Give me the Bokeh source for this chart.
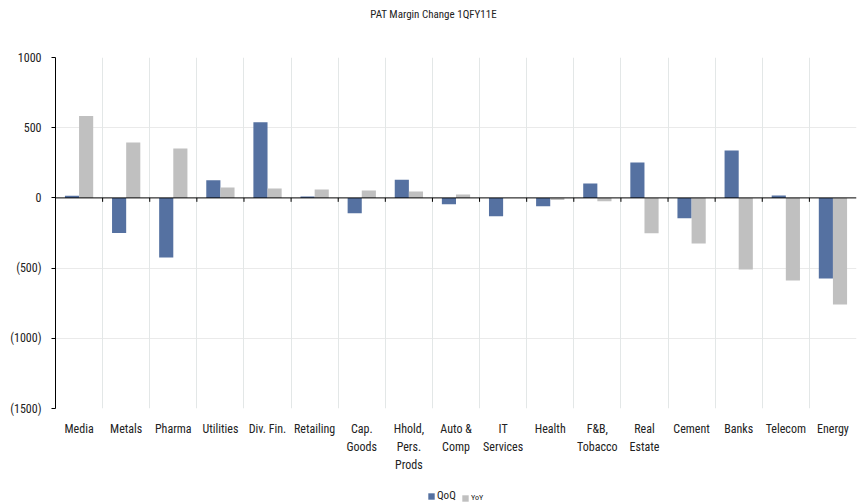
from bokeh.plotting import figure
from bokeh.layouts import column
from bokeh.models import (ColumnDataSource, Range1d, FixedTicker, LinearAxis,
                          Legend, LegendItem, Label, Grid, Span)
from bokeh.transform import dodge
from bokeh.embed import file_html
from bokeh.resources import INLINE

# Sector labels (multi-line where the label wraps)
categories = ["Media", "Metals", "Pharma", "Utilities", "Div. Fin.", "Retailing",
              "Cap.\nGoods", "Hhold,\nPers.\nProds", "Auto &\nComp", "IT\nServices",
              "Health", "F&B,\nTobacco", "Real\nEstate", "Cement", "Banks",
              "Telecom", "Energy"]
# PAT margin change, bps
qoq = [15, -250, -425, 125, 538, 10, -110, 130, -45, -130, -60, 102, 252, -145, 338, 17, -574]
yoy = [583, 395, 352, 74, 67, 60, 52, 45, 24, 0, -15, -24, -252, -324, -510, -588, -760]

y_ticks = [1000, 500, 0, -500, -1000, -1500]
y_tick_labels = ["1000", "500", "0", "(500)", "(1000)", "(1500)"]

FONT = "Roboto Condensed"
QOQ_COLOR = "#5571A1"
YOY_COLOR = "#C0C0C0"
TEXT_COLOR = "#222222"
W = 859


def strip(height):
    """Axis-less helper figure used for the title and the legend rows."""
    f = figure(width=W, height=height, output_backend="svg", toolbar_location=None,
               x_range=Range1d(0, 1), y_range=Range1d(0, 1),
               min_border=0, min_border_left=0, min_border_right=0,
               min_border_top=0, min_border_bottom=0,
               x_axis_type=None, y_axis_type=None)
    f.outline_line_color = None
    f.grid.visible = False
    return f


idx = list(range(len(categories)))
boundaries = [i + 0.5 for i in idx]
source = ColumnDataSource(data=dict(x=idx, qoq=qoq, yoy=yoy))
tick_source = ColumnDataSource(data=dict(x=boundaries[:-1]))

# Title row
ts = strip(30)
ts.add_layout(Label(x=0.472, y=0.52, text="PAT Margin Change 1QFY11E",
                    text_align="center", text_baseline="middle",
                    text_font=FONT, text_font_size="11px", text_color=TEXT_COLOR))

# Main chart
p = figure(width=W, height=450, output_backend="svg", toolbar_location=None,
           x_range=Range1d(-0.5, len(categories) - 0.5),
           y_range=Range1d(-1500, 1000),
           min_border_left=55, min_border_right=3,
           min_border_top=27, min_border_bottom=72,
           x_axis_type=None, y_axis_type=None)
p.outline_line_color = None
p.background_fill_color = "white"
p.border_fill_color = "white"

p.add_layout(Grid(dimension=1, ticker=FixedTicker(ticks=[500, -500, -1000]),
                  grid_line_color="#EAEAEA"))
p.add_layout(Grid(dimension=0, ticker=FixedTicker(ticks=boundaries),
                  grid_line_color="#E3E7E7"))

r_qoq = p.vbar(x=dodge("x", -0.15, range=p.x_range), top="qoq", width=0.3,
               source=source, fill_color=QOQ_COLOR, line_color=None)
r_yoy = p.vbar(x=dodge("x", 0.15, range=p.x_range), top="yoy", width=0.3,
               source=source, fill_color=YOY_COLOR, line_color=None)

# Zero line with short ticks between sectors
p.add_layout(Span(location=0, dimension="width", line_color="black", line_width=1))
p.segment(x0="x", x1="x", y0=0, y1=-28, source=tick_source,
          line_color="black", line_width=1)

# Left value axis
yaxis = LinearAxis(ticker=FixedTicker(ticks=y_ticks),
                   major_label_overrides={t: s for t, s in zip(y_ticks, y_tick_labels)})
yaxis.axis_line_color = "black"
yaxis.axis_line_width = 1
yaxis.major_tick_line_color = "black"
yaxis.major_tick_in = 0
yaxis.major_tick_out = 4
yaxis.minor_tick_line_color = None
yaxis.major_label_standoff = 10
yaxis.major_label_text_font = FONT
yaxis.major_label_text_font_size = "12px"
yaxis.major_label_text_color = TEXT_COLOR
p.add_layout(yaxis, "left")

# Sector labels
cat_axis = LinearAxis(ticker=FixedTicker(ticks=idx),
                      major_label_overrides={i: c for i, c in zip(idx, categories)})
cat_axis.axis_line_color = None
cat_axis.major_tick_line_color = None
cat_axis.minor_tick_line_color = None
cat_axis.major_label_standoff = 7
cat_axis.major_label_text_font = FONT
cat_axis.major_label_text_font_size = "12px"
cat_axis.major_label_text_color = TEXT_COLOR
cat_axis.major_label_text_line_height = 1.3
p.add_layout(cat_axis, "below")

# Legend row (hidden renderers only supply the swatches)
lf = strip(24)
lq = lf.vbar(x="x", top="qoq", width=0.3, source=source,
             fill_color=QOQ_COLOR, line_color=None, visible=False)
ly = lf.vbar(x="x", top="yoy", width=0.3, source=source,
             fill_color=YOY_COLOR, line_color=None, visible=False)
leg_common = dict(orientation="horizontal", padding=0, margin=0, spacing=4,
                  glyph_width=8, glyph_height=8, label_standoff=2,
                  border_line_color=None, background_fill_alpha=0,
                  label_text_font=FONT, label_text_color=TEXT_COLOR)
leg1 = Legend(items=[LegendItem(label="QoQ", renderers=[lq])],
              location=(372, 2), label_text_font_size="11px", **leg_common)
leg2 = Legend(items=[LegendItem(label="YoY", renderers=[ly])],
              location=(406, 2), label_text_font_size="8px", **leg_common)
lf.add_layout(leg1, "center")
lf.add_layout(leg2, "center")

layout = column(ts, p, lf, spacing=0)
open("out.html", "w").write(file_html(layout, INLINE))
